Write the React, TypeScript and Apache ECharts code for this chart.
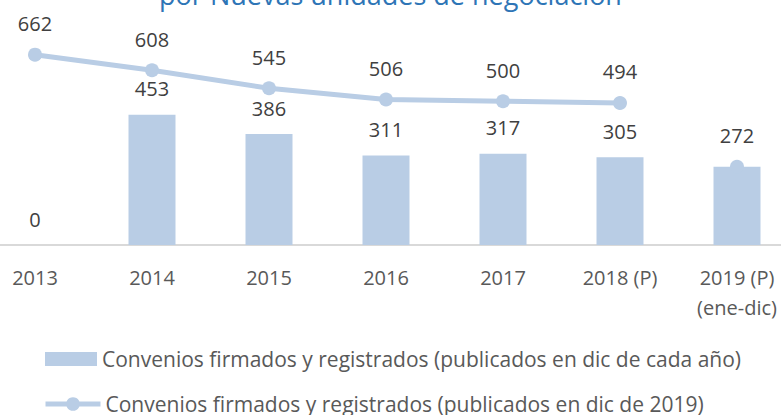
import React, { useEffect, useRef } from "react";
import * as echarts from "echarts";

const categories = ["2013", "2014", "2015", "2016", "2017", "2018 (P)", "2019 (P)\n(ene-dic)"];
const barName = "Convenios firmados y registrados (publicados en dic de cada año)";
const lineName = "Convenios firmados y registrados (publicados en dic de 2019)";
const barValues = [0, 453, 386, 311, 317, 305, 272];
const lineValues: (number | string)[] = [662, 608, 545, 506, 500, 494, "-"];
const lonePoint: (number | string)[] = ["-", "-", "-", "-", "-", "-", 272];
const titleText = "por Nuevas unidades de negociación";

const FONT = "'Open Sans', sans-serif";
const LIGHT = "#b9cde5";

export default function App() {
  const ref = useRef<HTMLDivElement>(null);
  useEffect(() => {
    if (!ref.current) return;
    const chart = echarts.init(ref.current, null, { renderer: "svg" });
    const labelStyle = {
      show: true,
      position: "top" as const,
      color: "#404040",
      fontFamily: FONT,
      fontSize: 20,
      lineHeight: 20,
    };
    const legendText = { color: "#595959", fontFamily: FONT, fontSize: 21, lineHeight: 22 };
    chart.setOption({
      animation: false,
      backgroundColor: "#ffffff",
      graphic: [
        {
          type: "text",
          left: "center",
          top: -19,
          style: {
            text: titleText,
            fill: "#2e75b6",
            font: `27px ${FONT}`,
          },
        },
      ],
      grid: {
        left: -23.5,
        right: -14.5,
        top: 15,
        bottom: 170,
        outerBoundsMode: "none",
        containLabel: false,
      },
      xAxis: {
        type: "category",
        data: categories,
        axisLine: { show: true, lineStyle: { color: "#d9d9d9", width: 2 } },
        axisTick: { show: false },
        axisLabel: {
          color: "#595959",
          fontFamily: FONT,
          fontSize: 20,
          lineHeight: 30,
          margin: 17,
          interval: 0,
        },
      },
      yAxis: { type: "value", min: 0, max: 800, show: false },
      legend: [
        {
          left: 45,
          top: 348,
          padding: 0,
          itemWidth: 52,
          itemHeight: 14,
          itemGap: 6,
          icon: "rect",
          data: [barName],
          textStyle: legendText,
        },
        {
          left: 43,
          top: 393,
          padding: 0,
          itemWidth: 55,
          itemHeight: 17,
          data: [lineName],
          lineStyle: { width: 5, color: LIGHT },
          textStyle: legendText,
        },
      ],
      series: [
        {
          name: barName,
          type: "bar",
          barWidth: 47,
          itemStyle: { color: LIGHT },
          label: { ...labelStyle, distance: 16 },
          data: barValues.map((v, i) =>
            lonePoint[i] !== "-" ? { value: v, label: { show: false } } : v
          ),
          z: 1,
        },
        {
          name: lineName,
          type: "line",
          symbol: "circle",
          symbolSize: 14,
          lineStyle: { color: LIGHT, width: 5 },
          itemStyle: { color: LIGHT },
          label: { ...labelStyle, distance: 14 },
          data: lineValues,
          z: 3,
        },
        {
          name: "lone",
          type: "line",
          symbol: "circle",
          symbolSize: 14,
          lineStyle: { color: LIGHT, width: 5 },
          itemStyle: { color: LIGHT },
          label: { ...labelStyle, distance: 14 },
          data: lonePoint,
          z: 3,
        },
      ],
    });
    return () => chart.dispose();
  }, []);
  return (
    <div
      ref={ref}
      style={{ position: "absolute", left: 0, top: 0, width: 781, height: 415 }}
    />
  );
}
